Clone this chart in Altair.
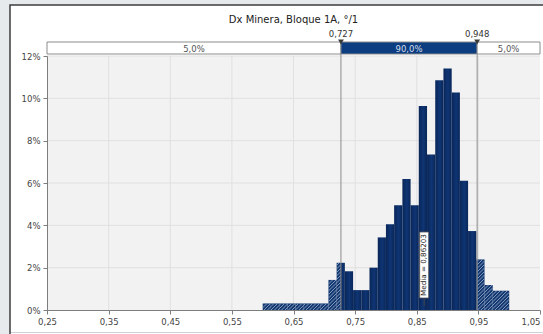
import math

import altair as alt
import pandas as pd

# ---- data -------------------------------------------------------------
CHART_TITLE = "Dx Minera, Bloque 1A, °/1"

bin_left = [0.6000, 0.6133, 0.6267, 0.6400, 0.6533, 0.6667, 0.6800, 0.6933,
            0.7067, 0.7200, 0.7333, 0.7467, 0.7600, 0.7733, 0.7867, 0.8000,
            0.8133, 0.8267, 0.8400, 0.8533, 0.8667, 0.8800, 0.8933, 0.9067,
            0.9200, 0.9333, 0.9467, 0.9600, 0.9733, 0.9867]
bin_right = bin_left[1:] + [1.0000]
bin_pct = [0.31, 0.31, 0.31, 0.31, 0.31, 0.31, 0.31, 0.31,
           1.42, 2.23, 1.83, 0.94, 0.94, 2.00, 3.43, 4.05,
           4.95, 6.19, 4.95, 9.64, 7.35, 10.86, 11.41, 10.27,
           6.11, 3.73, 2.39, 1.18, 0.91, 0.91]

interval_lo = 0.727
interval_hi = 0.948
tail_shares = [5.0, 90.0, 5.0]
mean_value = 0.86203

x_ticks = [0.25, 0.35, 0.45, 0.55, 0.65, 0.75, 0.85, 0.95, 1.05]
y_ticks = [0, 2, 4, 6, 8, 10, 12]

# ---- layout -----------------------------------------------------------
W, H = 493, 254
X_MIN, X_MAX, Y_MAX = 0.25, 1.05, 12
KX = W / (X_MAX - X_MIN)      # px per x unit
KY = H / Y_MAX                # px per percent
HATCH_STEP = 3.5              # horizontal spacing of hatch lines, px
FONT = "DejaVu Sans"


def comma(v, d):
    return f"{v:.{d}f}".replace(".", ",")


xs = alt.Scale(domain=[X_MIN, X_MAX], nice=False, zero=False)
ys = alt.Scale(domain=[0, Y_MAX], nice=False, zero=True)

# split bins into the part inside the interval (solid) and tails (hatched)
solid_rows, hatch_rows = [], []
for l, r, p in zip(bin_left, bin_right, bin_pct):
    a, b = max(l, interval_lo), min(r, interval_hi)
    if a < b:
        solid_rows.append(dict(x=a, x2=b, pct=p))
    if l < interval_lo:
        hatch_rows.append(dict(x=l, x2=min(r, interval_lo), pct=p))
    if r > interval_hi:
        hatch_rows.append(dict(x=max(l, interval_hi), x2=r, pct=p))

# diagonal hatch lines (///) clipped to each tail bar
stripe_rows = []
for row in hatch_rows:
    A = (row["x"] - X_MIN) * KX
    B = (row["x2"] - X_MIN) * KX
    Hp = row["pct"] * KY
    for k in range(math.ceil((A - Hp) / HATCH_STEP), math.floor(B / HATCH_STEP) + 1):
        C = k * HATCH_STEP
        X0 = max(A, C)
        X1 = min(B, C + Hp)
        if X1 <= X0:
            continue
        stripe_rows.append(dict(x=X_MIN + X0 / KX, y=(X0 - C) / KY,
                                x2=X_MIN + X1 / KX, y2=(X1 - C) / KY))

solid = pd.DataFrame(solid_rows)
hatch = pd.DataFrame(hatch_rows)
stripes = pd.DataFrame(stripe_rows)

seg_edges = [X_MIN, interval_lo, interval_hi, X_MAX]
segments = pd.DataFrame({
    "x": seg_edges[:-1],
    "x2": seg_edges[1:],
    "mid": [(a + b) / 2 for a, b in zip(seg_edges[:-1], seg_edges[1:])],
    "label": [comma(s, 1) + "%" for s in tail_shares],
    "kind": ["tail", "body", "tail"],
})
bounds = pd.DataFrame({"v": [interval_lo, interval_hi],
                       "label": [comma(interval_lo, 3), comma(interval_hi, 3)]})
mean_df = pd.DataFrame({"m": [mean_value], "label": [f"Media = {comma(mean_value, 5)}"]})
one = pd.DataFrame({"k": [0]})
xgrid = pd.DataFrame({"v": x_ticks[1:-1]})
ygrid = pd.DataFrame({"v": y_ticks[1:]})

axis_common = dict(grid=False, zindex=1, domainColor="#7d7d7d", tickColor="#7d7d7d",
                   tickSize=4, labelFont=FONT, labelFontSize=8.5, labelColor="#444444",
                   labelOverlap=False, title=None)

# ---- layers -----------------------------------------------------------
frame = alt.Chart(one).mark_rect(fill="white", stroke="#3d3d3d", strokeWidth=1.5).encode(
    x=alt.value(-37), x2=alt.value(530), y=alt.value(-51), y2=alt.value(300))
frame_bottom = alt.Chart(one).mark_rule(color="#cdd1d5", strokeWidth=1).encode(
    x=alt.value(-36), x2=alt.value(530), y=alt.value(276.5))
plot_bg = alt.Chart(one).mark_rect(fill="#f2f2f2").encode(
    x=alt.value(0), x2=alt.value(W), y=alt.value(0), y2=alt.value(H))

grid_x = alt.Chart(xgrid).mark_rule(color="#e0e0e0", strokeWidth=1).encode(
    x=alt.X("v:Q", scale=xs, axis=alt.Axis(
        values=x_ticks, labelPadding=3,
        labelExpr="replace(format(datum.value, '.2f'), '.', ',')",
        labelAlign={"condition": {"test": "datum.value > 1.049", "value": "right"},
                    "value": "center"},
        **axis_common)),
    y=alt.value(0), y2=alt.value(H))
grid_y = alt.Chart(ygrid).mark_rule(color="#e0e0e0", strokeWidth=1).encode(
    y=alt.Y("v:Q", scale=ys, axis=alt.Axis(
        values=y_ticks, labelPadding=3, labelExpr="datum.value + '%'", **axis_common)),
    x=alt.value(0), x2=alt.value(W))

tail_bars = alt.Chart(hatch).mark_rect(fill="#143870").encode(
    x=alt.X("x:Q", scale=xs), x2="x2:Q",
    y=alt.Y("pct:Q", scale=ys), y2=alt.datum(0))
tail_lines = alt.Chart(stripes).mark_rule(color="#8fa5c8", strokeWidth=0.9).encode(
    x=alt.X("x:Q", scale=xs), x2="x2:Q",
    y=alt.Y("y:Q", scale=ys), y2="y2:Q")

bar_fill = alt.Gradient(
    gradient="linear", x1=0, x2=1, y1=0, y2=0,
    stops=[alt.GradientStop(color="#092658", offset=0),
           alt.GradientStop(color="#0f3574", offset=0.55),
           alt.GradientStop(color="#092658", offset=1)])
body_bars = alt.Chart(solid).mark_rect(color=bar_fill).encode(
    x=alt.X("x:Q", scale=xs), x2="x2:Q",
    y=alt.Y("pct:Q", scale=ys), y2=alt.datum(0))

bound_lines = alt.Chart(bounds).mark_rule(color="#8c8c8c", strokeWidth=1).encode(
    x=alt.X("v:Q", scale=xs), y=alt.value(-2), y2=alt.value(H))

range_bar = alt.Chart(segments).mark_rect(stroke="#8c8c8c", strokeWidth=1).encode(
    x=alt.X("x:Q", scale=xs), x2="x2:Q", y=alt.value(-14), y2=alt.value(-2),
    fill=alt.Fill("kind:N", scale=alt.Scale(domain=["tail", "body"],
                                             range=["white", "#0b3d80"]), legend=None))
range_text = alt.Chart(segments).mark_text(font=FONT, fontSize=8.5, baseline="middle").encode(
    x=alt.X("mid:Q", scale=xs), y=alt.value(-7.5), text="label:N",
    color=alt.Color("kind:N", scale=alt.Scale(domain=["tail", "body"],
                                               range=["#555555", "#d5deec"]), legend=None))
markers = alt.Chart(bounds).mark_point(shape="triangle-down", filled=True, opacity=1,
                                       color="#3a3a3a", size=34).encode(
    x=alt.X("v:Q", scale=xs), y=alt.value(-14))
bound_text = alt.Chart(bounds).mark_text(font=FONT, fontSize=8.5, color="#333333",
                                         baseline="middle").encode(
    x=alt.X("v:Q", scale=xs), y=alt.value(-22.5), text="label:N")

mean_box = alt.Chart(mean_df).mark_rect(fill="white", stroke="#555555", strokeWidth=0.8,
                                        xOffset=-4.5, x2Offset=4.5).encode(
    x=alt.X("m:Q", scale=xs), x2="m:Q", y=alt.value(176), y2=alt.value(242))
mean_tick = alt.Chart(mean_df).mark_rule(color="#444444", strokeWidth=1).encode(
    x=alt.X("m:Q", scale=xs), y=alt.value(242), y2=alt.value(250))
mean_text = alt.Chart(mean_df).mark_text(font=FONT, fontSize=7.2, angle=270, color="#222222",
                                         baseline="middle", align="center").encode(
    x=alt.X("m:Q", scale=xs), y=alt.value(209), text="label:N")

title = alt.Chart(one).mark_text(font=FONT, fontSize=10, color="#222222",
                                 baseline="middle").encode(
    x=alt.value(W / 2), y=alt.value(-36), text=alt.value(CHART_TITLE))

chart = alt.layer(
    frame, frame_bottom, plot_bg, grid_x, grid_y,
    tail_bars, tail_lines, body_bars, bound_lines,
    range_bar, range_text, markers, bound_text,
    mean_box, mean_tick, mean_text, title,
).properties(
    width=W, height=H,
    padding={"left": 47, "top": 56, "right": 3, "bottom": 24},
    autosize=alt.AutoSizeParams(type="none"),
).configure(
    background="#e6eaed",
).configure_view(stroke=None)

chart.save("out.html", embed_options={"renderer": "svg", "actions": False})
